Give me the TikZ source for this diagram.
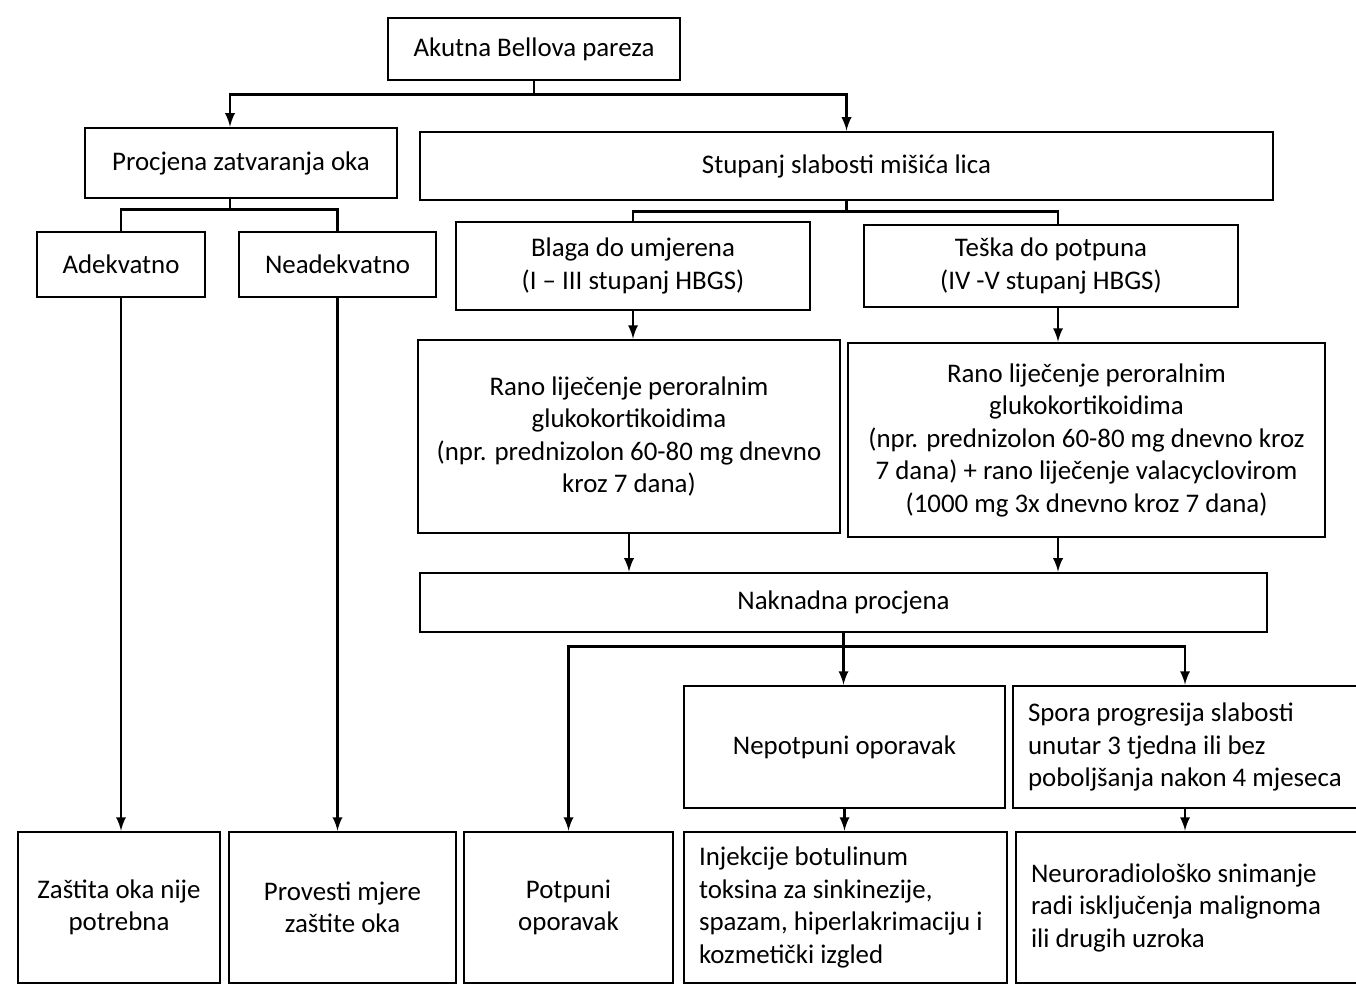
\documentclass[tikz,border=0pt]{standalone}
\usepackage{fontspec}
\setmainfont{Carlito}
\usetikzlibrary{arrows}
\tikzstyle{normalBox} = [shape=rectangle, draw=black, text=black, line width=1.6pt,
	align=center, fill=white, font=\fontsize{15.3pt}{18.5pt}\selectfont]
\tikzstyle{leftBox} = [normalBox, align=flush left, inner xsep=0.3cm]
\tikzstyle{link} = [draw, line width=1.6pt]
\tikzstyle{arrowLink} = [link, -latex]

\begin{document}
\begin{tikzpicture}[x=0.02cm, y=-0.02cm]
	\useasboundingbox (0,0) rectangle (1356,986);
	% upper part
	\node[normalBox, minimum width=5.84cm, minimum height=1.24cm] (akutna) at (534,49) {Akutna Bellova pareza};
	\node[normalBox, minimum width=6.24cm, minimum height=1.40cm] (procjena) at (241,163) {Procjena zatvaranja oka};
	\node[normalBox, minimum width=17.06cm, minimum height=1.36cm] (stupanj) at (846.5,166) {Stupanj slabosti mišića lica};
	\node[normalBox, minimum width=3.36cm, minimum height=1.30cm] (adekvatno) at (121,264.5) {Adekvatno};
	\node[normalBox, minimum width=3.94cm, minimum height=1.30cm] (neadekvatno) at (337.5,264.5) {Neadekvatno};
	\node[normalBox, minimum width=7.08cm, minimum height=1.76cm] (blaga) at (633,266) {Blaga do umjerena\\(I – III stupanj HBGS)};
	\node[normalBox, minimum width=7.48cm, minimum height=1.64cm] (teska) at (1051,266) {Teška do potpuna\\(IV -V stupanj HBGS)};
	\node[normalBox, minimum width=8.44cm, minimum height=3.86cm] (rano1) at (629,436.5)
		{Rano liječenje peroralnim\\glukokortikoidima\\(npr. prednizolon 60-80 mg dnevno\\kroz 7 dana)};
	\node[normalBox, minimum width=9.54cm, minimum height=3.88cm] (rano2) at (1086.5,440)
		{Rano liječenje peroralnim\\glukokortikoidima\\(npr. prednizolon 60-80 mg dnevno kroz\\7 dana) + rano liječenje valacyclovirom\\(1000 mg 3x dnevno kroz 7 dana)};
	\node[normalBox, minimum width=16.94cm, minimum height=1.18cm] (naknadna) at (843.5,602.5) {Naknadna procjena};
	% lower part
	\node[normalBox, minimum width=6.42cm, minimum height=2.44cm] (nepotpuni) at (844.5,747) {Nepotpuni oporavak};
	\node[leftBox, text width=6.8cm, minimum height=2.44cm] (spora) at (1198,747)
		{Spora progresija slabosti\\unutar 3 tjedna ili bez\\poboljšanja nakon 4 mjeseca};
	\node[normalBox, minimum width=4.04cm, minimum height=3.02cm] (zastita) at (119,907.5) {Zaštita oka nije\\potrebna};
	\node[normalBox, minimum width=4.54cm, minimum height=3.02cm] (provesti) at (342.5,907.5) {Provesti mjere\\zaštite oka};
	\node[normalBox, minimum width=4.18cm, minimum height=3.02cm] (potpuni) at (568.5,907.5) {Potpuni\\oporavak};
	\node[leftBox, text width=5.86cm, minimum height=3.02cm] (injekcije) at (845.5,907.5)
		{Injekcije botulinum\\toksina za sinkinezije,\\spazam, hiperlakrimaciju i\\kozmetički izgled};
	\node[leftBox, text width=6.8cm, minimum height=3.02cm] (neuro) at (1201,907.5)
		{Neuroradiološko snimanje\\radi isključenja malignoma\\ili drugih uzroka};

	\coordinate (pz) at ([xshift=-0.22cm]procjena.south);
	\coordinate (tk) at ([xshift=0.14cm]teska.south);
	\coordinate (sp) at ([xshift=-0.26cm]spora.south);

	\draw[arrowLink] (akutna.south) -- ++(0,13) -| ([xshift=-0.22cm]procjena.north);
	\draw[arrowLink] (akutna.south) -- ++(0,13) -| (stupanj.north);
	\draw[link] (pz) -- ++(0,10) -| (adekvatno.north);
	\draw[link] (pz) -- ++(0,10) -| (neadekvatno.north);
	\draw[link] (stupanj.south) -- ++(0,10) -| (blaga.north);
	\draw[link] (stupanj.south) -- ++(0,10) -| ([xshift=0.14cm]teska.north);
	\draw[arrowLink] (blaga.south) -- (blaga.south |- rano1.north);
	\draw[arrowLink] (tk) -- (tk |- rano2.north);
	\draw[arrowLink] (rano1.south) -- (rano1.south |- naknadna.north);
	\draw[arrowLink] (tk |- rano2.south) -- (tk |- naknadna.north);
	\draw[arrowLink] (naknadna.south) -- ++(0,13) -| (potpuni.north);
	\draw[arrowLink] (naknadna.south) -- (naknadna.south |- nepotpuni.north);
	\draw[arrowLink] (naknadna.south) -- ++(0,13) -| ([xshift=-0.26cm]spora.north);
	\draw[arrowLink] (adekvatno.south) -- (adekvatno.south |- zastita.north);
	\draw[arrowLink] (neadekvatno.south) -- (neadekvatno.south |- provesti.north);
	\draw[arrowLink] (nepotpuni.south) -- (nepotpuni.south |- injekcije.north);
	\draw[arrowLink] (sp) -- (sp |- neuro.north);
\end{tikzpicture}
\end{document}
